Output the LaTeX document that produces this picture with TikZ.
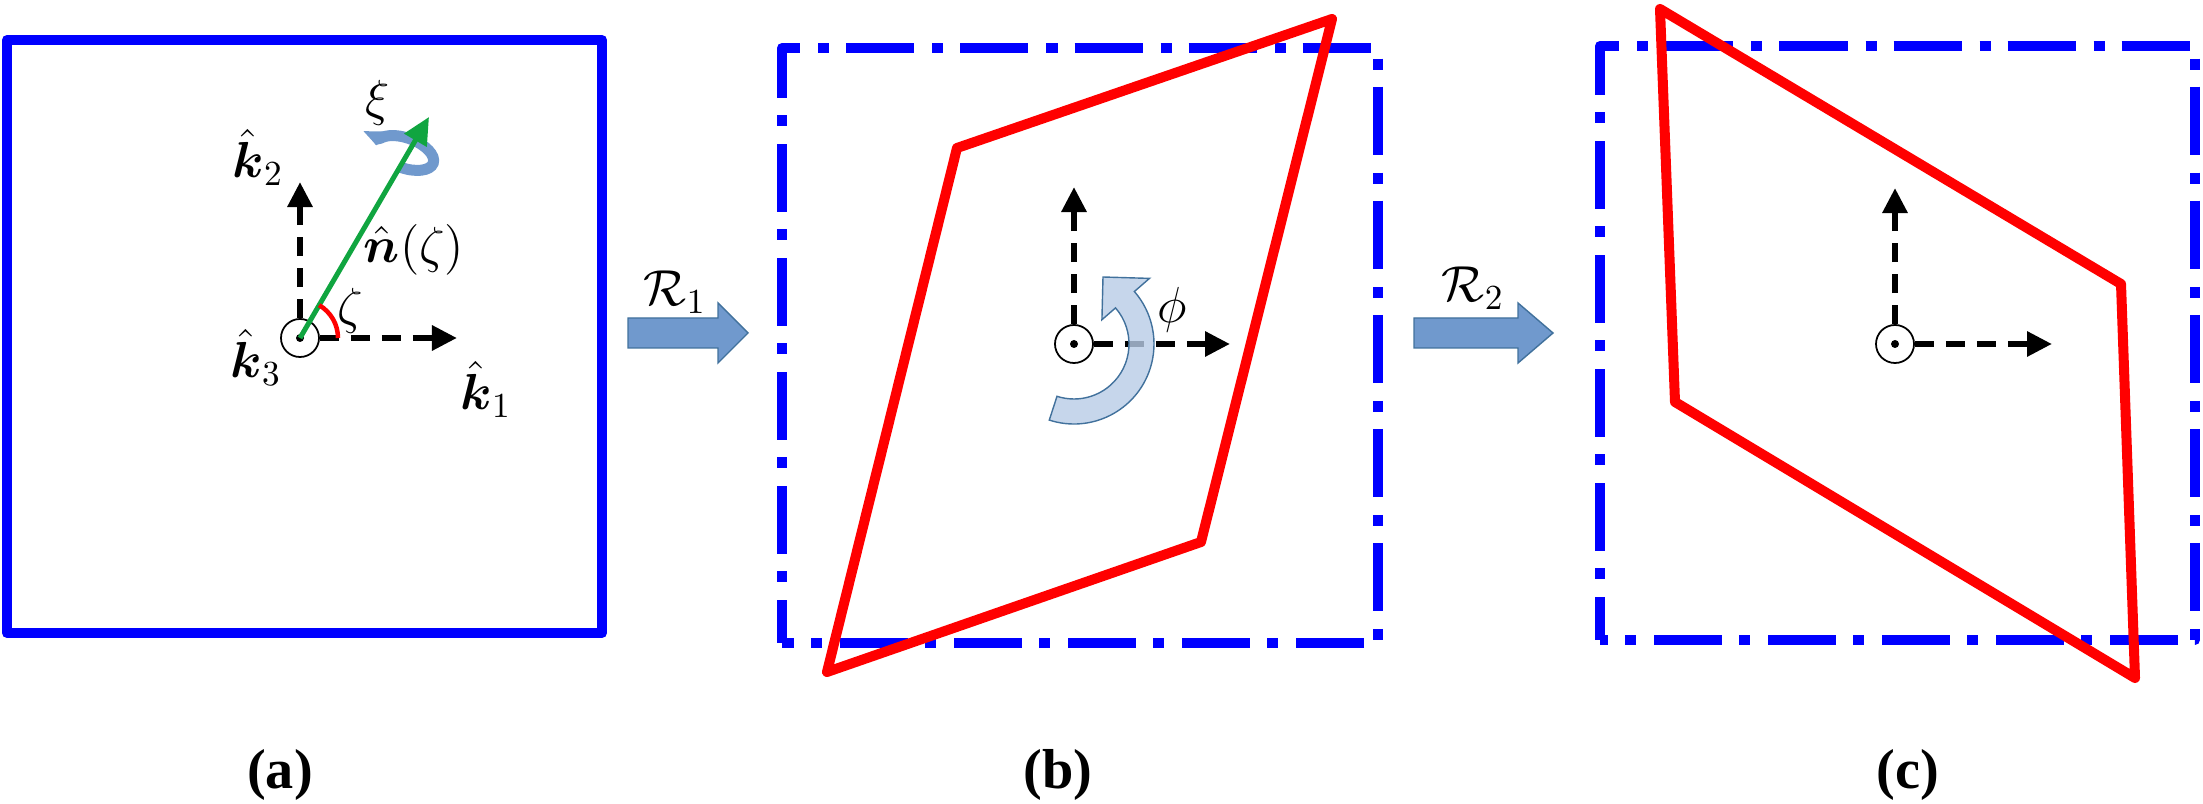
\documentclass[tikz,border=0pt]{standalone}
\usepackage{amsmath}
\usepackage{amssymb}
\usepackage{fontspec}
\newfontfamily\capfont{Liberation Serif}
\usepackage{xcolor}
\usetikzlibrary{arrows.meta}

\definecolor{shapeblue}{RGB}{112,153,205}
\definecolor{edgeblue}{RGB}{65,113,156}
\definecolor{paleblue}{RGB}{184,204,230}
\definecolor{normalgreen}{RGB}{16,165,64}

\tikzset{
  boxline/.style={blue, line width=0.1cm, line join=round},
  dashdot/.style={dash pattern=on 0.68cm off 0.18cm on 0.11cm off 0.17cm, dash phase=0.25cm},
  cell/.style={red, line width=0.1cm, line join=round},
  axis/.style={black, line width=0.06cm, dash pattern=on 0.19cm off 0.12cm, -{Triangle[length=0.25cm,width=0.24cm]}},
  dotc/.style={circle, draw, line width=0.5pt, minimum size=0.38cm, inner sep=0pt},
  lbl/.style={font=\Large},
  caplbl/.style={font=\capfont\bfseries\fontsize{16}{18}\selectfont},
  blockarr/.style={fill=shapeblue, draw=edgeblue, line width=0.4pt},
}

\begin{document}
\begin{tikzpicture}[x=0.01cm, y=0.01cm]
    \useasboundingbox (0,0) rectangle (2203,803);
    % frames
    \draw [boxline] (7,170) rectangle (602,763);
    \draw [boxline, dashdot] (782,160) rectangle (1378,755);
    \draw [boxline, dashdot] (1600,163) rectangle (2195,757);
    % deformed cells
    \draw [cell] (827,131) -- (957,655) -- (1332,784) -- (1201,261) -- cycle;
    \draw [cell] (1660,794) -- (1675,401) -- (2135,125) -- (2121,519) -- cycle;

    % (a) axes
    \node [dotc] (oa) at (300,465) {};
    \fill (oa.center) circle [radius=0.04cm];
    \coordinate (a1) at (457,465);
    \coordinate (a2) at (300,621);
    \draw [axis] (oa) -- (a1);
    \draw [axis] (oa) -- (a2);
    \node [lbl] (k1) at (486,414) {$\hat{\boldsymbol{k}}_1$};
    \node [lbl] (k2) at (258,646) {$\hat{\boldsymbol{k}}_2$};
    \node [lbl] (k3) at (256,446) {$\hat{\boldsymbol{k}}_3$};
    % twist about n
    \draw [shapeblue, line width=0.11cm, rotate around={-20:(405,650)}, -{Triangle[length=0.14cm,width=0.25cm]}]
        (405,650) ++(-90:30 and 15) arc [start angle=-90, end angle=190, x radius=30, y radius=15];
    \coordinate (na) at (429,686);
    \draw [normalgreen, line width=0.05cm, -{Triangle[length=0.27cm,width=0.25cm]}] (oa.center) -- (na);
    \draw [red, line width=0.045cm] (oa.center) ++(0:38) arc [start angle=0, end angle=59.7, radius=38];
    \node [lbl] (zeta) at (350,492) {$\zeta$};
    \node [lbl] (nz) at (414,553) {$\hat{\boldsymbol{n}}(\zeta)$};
    \node [lbl] (xi) at (378,700) {$\xi$};

    % (b) axes
    \node [dotc] (ob) at (1074,459) {};
    \fill (ob.center) circle [radius=0.04cm];
    \coordinate (b1) at (1230,459);
    \coordinate (b2) at (1074,616);
    \draw [axis] (ob) -- (b1);
    \draw [axis] (ob) -- (b2);
    % in-plane rotation
    \begin{scope}[shift={(ob.center)}]
        \filldraw [fill=paleblue, fill opacity=0.8, draw=edgeblue, line width=0.4pt]
            (-108:80) arc [start angle=-108, end angle=41, radius=80] -- (41:100) -- (66.6:73)
            -- (41:37) -- (41:55) arc [start angle=41, end angle=-108, radius=55] -- cycle;
    \end{scope}
    \node [lbl] (phi) at (1172,493) {$\phi$};

    % (c) axes
    \node [dotc] (oc) at (1895,459) {};
    \fill (oc.center) circle [radius=0.04cm];
    \coordinate (c1) at (2052,459);
    \coordinate (c2) at (1895,615);
    \draw [axis] (oc) -- (c1);
    \draw [axis] (oc) -- (c2);

    % maps
    \draw [blockarr] (628,455) -- (718,455) -- (718,440) -- (748,470) -- (718,500) -- (718,485) -- (628,485) -- cycle;
    \node [lbl] (r1) at (675,511) {$\mathcal{R}_1$};
    \draw [blockarr] (1414,455) -- (1518,455) -- (1518,440) -- (1553,470) -- (1518,500) -- (1518,485) -- (1414,485) -- cycle;
    \node [lbl] (r2) at (1473,515) {$\mathcal{R}_2$};

    % captions
    \node [caplbl] (capa) at (280,28) {(a)};
    \node [caplbl] (capb) at (1058,28) {(b)};
    \node [caplbl] (capc) at (1908,28) {(c)};
\end{tikzpicture}
\end{document}
